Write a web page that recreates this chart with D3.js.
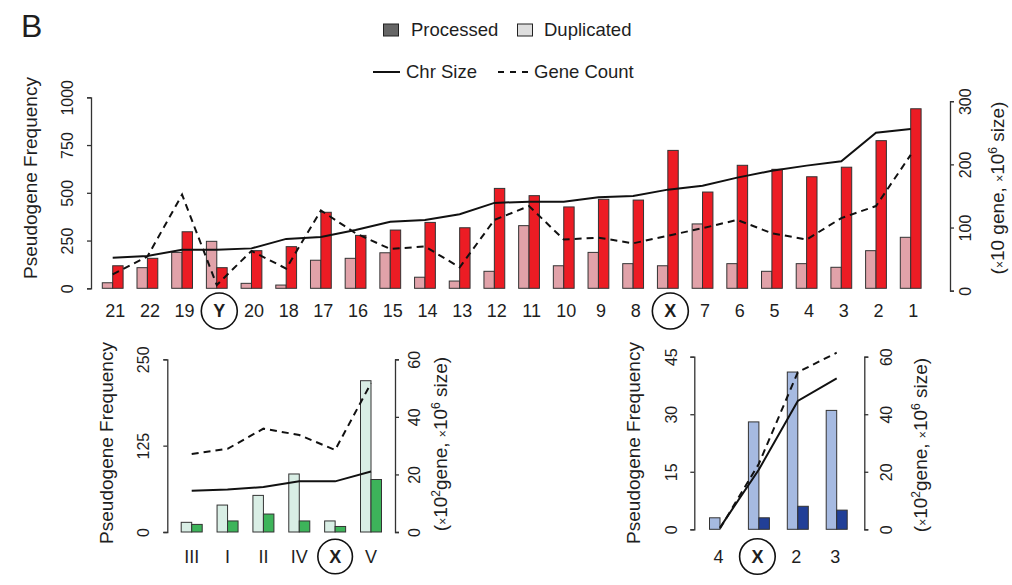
<!DOCTYPE html>
<html>
<head>
<meta charset="utf-8">
<script src="https://cdn.jsdelivr.net/npm/d3@7"></script>
<style>
  body { margin: 0; background: #fff; }
  text { font-family: "Liberation Sans", Arial, Helvetica, sans-serif; fill: #1e1e1e; }
</style>
</head>
<body>
<div id="chart"></div>
<script>
// human chromosomes, ordered by size
const topCats = ["21","22","19","Y","20","18","17","16","15","14","13","12","11","10","9","8","X","7","6","5","4","3","2","1"]
const topDuplicated = [29,108,188,246,26,17,147,157,186,58,38,89,328,118,188,129,118,337,129,89,129,110,197,267]
const topProcessed = [118,157,296,108,197,218,398,277,305,345,317,523,485,426,466,462,722,504,644,623,584,634,773,940]
const topChrSize = [52,55,65,65,67,82,85,96,109,112,121,139,141,141,148,150,160,166,179,190,198,205,250,256]
const topGeneCount = [26,54,152,9,63,35,127,91,66,70,37,112,134,81,84,75,87,99,112,91,81,115,134,215]
const topLeftTicks = [0,250,500,750,1000]
const topRightTicks = [0,100,200,300]

// worm chromosomes
const wormCats = ["III","I","II","IV","X","V"]
const wormDuplicated = [14,39,53,84,16,219]
const wormProcessed = [11,16,26,16,8,76]
const wormChrSize = [14.3,14.8,15.6,17.6,17.6,21]
const wormGeneCount = [27.1,28.9,35.9,33.7,28.5,51.7]
const wormLeftTicks = [0,125,250]
const wormRightTicks = [0,20,40,60]

// fly chromosomes
const flyCats = ["4","X","2","3"]
const flyDuplicated = [3,28,41,31]
const flyProcessed = [0,3,6,5]
const flyChrSize = [0.6,20.8,44.6,52.5]
const flyGeneCount = [0.3,22.8,54.6,61.4]
const flyLeftTicks = [0,15,30,45]
const flyRightTicks = [0,20,40,60]

const circled = ["X","Y"]

const width = 1012
const height = 585
const svg = d3.select("#chart").append("svg").attr("width", width).attr("height", height)

svg.append("text").attr("x", 21).attr("y", 37).style("font-size", "32px").text("B")

// legend
const legend = svg.append("g").attr("id", "legend")
legend.append("rect").attr("x", 383.5).attr("y", 24).attr("width", 15).attr("height", 12)
    .attr("fill", "#666").attr("stroke", "#222").attr("stroke-width", 1)
legend.append("text").attr("x", 411).attr("y", 30).attr("dy", "0.35em").style("font-size", "18.5px").text("Processed")
legend.append("rect").attr("x", 517.5).attr("y", 24).attr("width", 15).attr("height", 12)
    .attr("fill", "#dedede").attr("stroke", "#222").attr("stroke-width", 1)
legend.append("text").attr("x", 544).attr("y", 30).attr("dy", "0.35em").style("font-size", "18.5px").text("Duplicated")
legend.append("line").attr("x1", 373).attr("x2", 400).attr("y1", 72).attr("y2", 72)
    .attr("stroke", "#111").attr("stroke-width", 2)
legend.append("text").attr("x", 406).attr("y", 72).attr("dy", "0.35em").style("font-size", "18.5px").text("Chr Size")
legend.append("line").attr("x1", 498).attr("x2", 529).attr("y1", 72).attr("y2", 72)
    .attr("stroke", "#111").attr("stroke-width", 2).attr("stroke-dasharray", "6,6")
legend.append("text").attr("x", 534).attr("y", 72).attr("dy", "0.35em").style("font-size", "18.5px").text("Gene Count")

function drawPanel(p) {
    const g = svg.append("g")
    const x = d3.scalePoint().domain(p.cats).range(p.xRange)
    const yL = d3.scaleLinear().domain(d3.extent(p.leftTicks)).range(p.yLeftRange)
    const yR = d3.scaleLinear().domain(d3.extent(p.rightTicks)).range(p.yRightRange)
    const bw = p.barWidth

    // bars
    g.selectAll("rect.dup").data(p.cats).enter().append("rect")
        .attr("x", c => x(c) - bw)
        .attr("y", (c, i) => yL(p.duplicated[i]))
        .attr("width", bw)
        .attr("height", (c, i) => yL(0) - yL(p.duplicated[i]))
        .attr("fill", p.lightColor).attr("stroke", "#333").attr("stroke-width", 1)
    g.selectAll("rect.proc").data(p.cats.filter((c, i) => p.processed[i] > 0)).enter().append("rect")
        .attr("x", c => x(c))
        .attr("y", c => yL(p.processed[p.cats.indexOf(c)]))
        .attr("width", bw)
        .attr("height", c => yL(0) - yL(p.processed[p.cats.indexOf(c)]))
        .attr("fill", p.darkColor).attr("stroke", "#333").attr("stroke-width", 1)

    // lines on the right axis
    const line = d3.line().x(d => x(d[0])).y(d => yR(d[1]))
    g.append("path").datum(p.cats.map((c, i) => [c, p.chrSize[i]]))
        .attr("d", line).attr("fill", "none").attr("stroke", "#111").attr("stroke-width", 2)
    g.append("path").datum(p.cats.map((c, i) => [c, p.geneCount[i]]))
        .attr("d", line).attr("fill", "none").attr("stroke", "#111").attr("stroke-width", 2)
        .attr("stroke-dasharray", "7,5")

    // axes
    const fmt = d3.format("d")
    const leftAxis = g.append("g").attr("transform", `translate(${p.leftX},0)`)
        .call(d3.axisLeft(yL).tickValues(p.leftTicks).tickFormat(fmt).tickSize(4).tickSizeOuter(4).tickPadding(0))
    const rightAxis = g.append("g").attr("transform", `translate(${p.rightX},0)`)
        .call(d3.axisRight(yR).tickValues(p.rightTicks).tickFormat(fmt).tickSize(4).tickSizeOuter(4).tickPadding(0))
    ;[leftAxis, rightAxis].forEach(a => {
        a.attr("font-family", null).attr("font-size", null)
        a.select(".domain").attr("stroke", "#333").attr("stroke-width", 1.3)
        a.selectAll(".tick line").attr("stroke", "#333").attr("stroke-width", 1.3)
        a.selectAll(".tick text").style("font-size", "16px").attr("fill", "#1e1e1e")
            .attr("text-anchor", "middle").attr("x", 0).attr("dy", "0.35em")
            .attr("transform", "rotate(-90)")
    })
    leftAxis.selectAll(".tick text").attr("y", -p.leftLabelOffset)
    rightAxis.selectAll(".tick text").attr("y", p.rightLabelOffset)

    // axis titles
    g.append("text")
        .attr("transform", `translate(${p.leftTitle[0]},${p.leftTitle[1]}) rotate(-90)`)
        .attr("text-anchor", "middle").attr("dy", "0.35em").style("font-size", "19px")
        .text("Pseudogene Frequency")
    const rt = g.append("text")
        .attr("transform", `translate(${p.rightTitle[0]},${p.rightTitle[1]}) rotate(-90)`)
        .attr("text-anchor", "middle").attr("dy", "0.35em").style("font-size", "19px")
    rt.append("tspan").text("(")
    rt.append("tspan").style("font-size", "12px").text("\u00d7")
    if (p.geneExp) {
        rt.append("tspan").text("10")
        rt.append("tspan").style("font-size", "12px").attr("dy", -7).text(p.geneExp)
        rt.append("tspan").attr("dy", 7).text("gene, ")
    } else {
        rt.append("tspan").text("10 gene, ")
    }
    rt.append("tspan").style("font-size", "12px").text("\u00d7")
    rt.append("tspan").text("10")
    rt.append("tspan").style("font-size", "12px").attr("dy", -7).text("6")
    rt.append("tspan").attr("dy", 7).text(" size)")

    // category labels
    const labels = g.selectAll("g.cat").data(p.cats).enter().append("g")
        .attr("transform", c => `translate(${x(c) + p.labelDx},${p.labelY})`)
    labels.filter(c => circled.includes(c)).append("circle")
        .attr("r", p.circleR).attr("fill", "none").attr("stroke", "#111").attr("stroke-width", 1.6)
    labels.append("text").attr("text-anchor", "middle").attr("dy", "0.35em")
        .style("font-size", "18px")
        .style("font-weight", c => circled.includes(c) ? "bold" : "normal")
        .text(c => c)
}

drawPanel({
    cats: topCats, duplicated: topDuplicated, processed: topProcessed,
    chrSize: topChrSize, geneCount: topGeneCount,
    leftTicks: topLeftTicks, rightTicks: topRightTicks,
    xRange: [112.7, 910.7], barWidth: 10.4,
    yLeftRange: [288.3, 97.3], yRightRange: [290.7, 101.2],
    leftX: 91, rightX: 950, leftLabelOffset: 24, rightLabelOffset: 15,
    leftTitle: [30, 178], rightTitle: [997, 188], geneExp: null,
    lightColor: "#e1a2a9", darkColor: "#ec1c24",
    labelY: 311, labelDx: 2.5, circleR: 18
})

drawPanel({
    cats: wormCats, duplicated: wormDuplicated, processed: wormProcessed,
    chrSize: wormChrSize, geneCount: wormGeneCount,
    leftTicks: wormLeftTicks, rightTicks: wormRightTicks,
    xRange: [191.7, 371], barWidth: 10.5,
    yLeftRange: [532, 359.3], yRightRange: [532, 359.3],
    leftX: 167.3, rightX: 395, leftLabelOffset: 24, rightLabelOffset: 19,
    leftTitle: [106.5, 443], rightTitle: [440, 444], geneExp: "2",
    lightColor: "#d9eee5", darkColor: "#3db45a",
    labelY: 556.5, labelDx: 0, circleR: 17.3
})

drawPanel({
    cats: flyCats, duplicated: flyDuplicated, processed: flyProcessed,
    chrSize: flyChrSize, geneCount: flyGeneCount,
    leftTicks: flyLeftTicks, rightTicks: flyRightTicks,
    xRange: [720, 836.7], barWidth: 10.5,
    yLeftRange: [529.3, 356.7], yRightRange: [529.3, 356.7],
    leftX: 694.3, rightX: 864.3, leftLabelOffset: 23, rightLabelOffset: 22,
    leftTitle: [633.5, 443], rightTitle: [920, 445], geneExp: "2",
    lightColor: "#a6bae1", darkColor: "#213f97",
    labelY: 556.5, labelDx: -1.5, circleR: 17.8
})
</script>
</body>
</html>
